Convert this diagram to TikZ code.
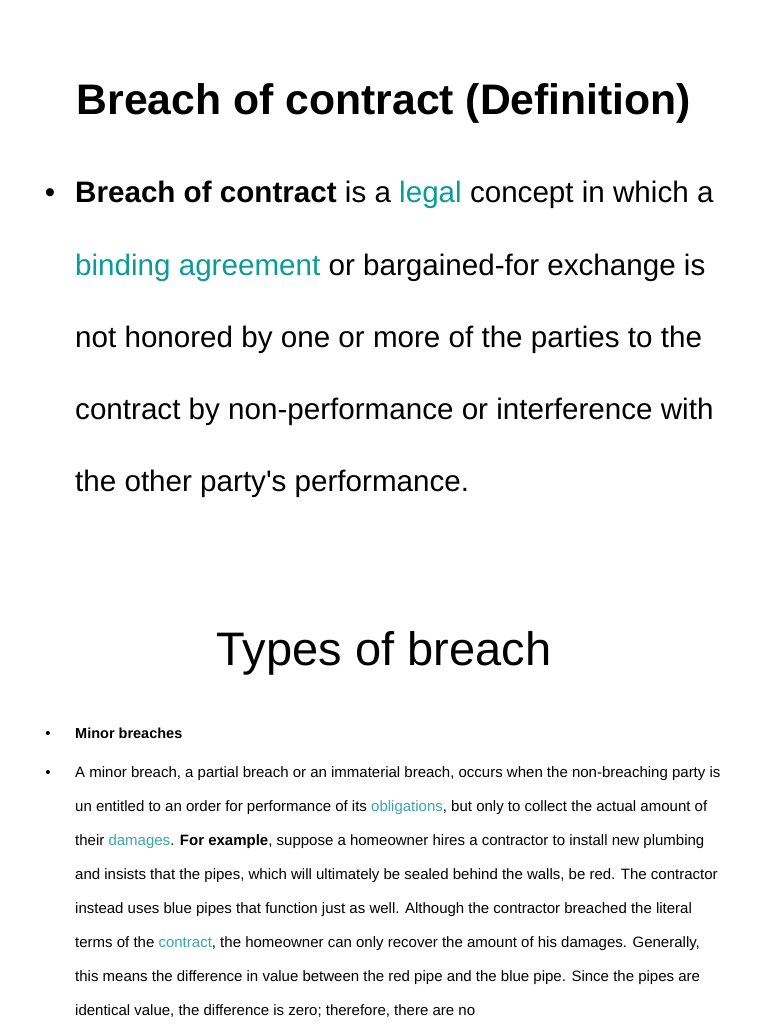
\documentclass[tikz,border=0pt]{standalone}
\usepackage{fontspec}
\setmainfont{Liberation Sans}
\newfontfamily\plainf{Liberation Sans}[Ligatures=ResetAll]
\definecolor{lnk}{HTML}{0A9B9B}
\definecolor{lnks}{HTML}{3AA8A8}
\begin{document}
\begin{tikzpicture}[x=1pt,y=-1pt,
  ln/.style={anchor=base west,inner sep=0pt},
  big/.style={ln,font=\fontsize{29.6}{32}\selectfont},
  sm/.style={ln,font=\fontsize{15}{17}\selectfont},
  bul/.style={anchor=base,inner sep=0pt}]
\useasboundingbox[fill=white] (0,0) rectangle (768,1024);
\node[anchor=base,inner sep=0pt,font=\bfseries\fontsize{42.7}{46}\selectfont] (title) at (384,115) {Breach of contract (Definition)};
\node[bul,font=\fontsize{29.6}{32}\selectfont] (b1) at (50,203) {•};
\node[big] (l1) at (75,203) {\textbf{Breach of contract} is a \textcolor{lnk}{legal} concept in which a};
\node[big] (l2) at (75,275) {\textcolor{lnk}{binding agreement} or bargained-for exchange is};
\node[big] (l3) at (75,347) {not honored by one or more of the parties to the};
\node[big] (l4) at (75,419) {contract by non-performance or interference with};
\node[big] (l5) at (75,491) {the other party{\plainf '}s performance.};
\node[anchor=base,inner sep=0pt,font=\fontsize{47}{50}\selectfont] (t2) at (384,665) {Types of breach};
\node[bul,font=\fontsize{15}{17}\selectfont] (b2) at (48,738) {•};
\node[sm,font=\bfseries\fontsize{14.5}{16}\selectfont] (s0) at (75,738) {Minor breaches};
\node[bul,font=\fontsize{15}{17}\selectfont] (b3) at (48,777) {•};
\node[sm] (s1) at (75,777) {A minor breach, a partial breach or an immaterial breach, occurs when the non-breaching party is};
\node[sm] (s2) at (75,811) {un entitled to an order for performance of its \textcolor{lnks}{obligations}, but only to collect the actual amount of};
\node[sm] (s3) at (75,845) {their \textcolor{lnks}{damages}. \textbf{For example}, suppose a homeowner hires a contractor to install new plumbing};
\node[sm] (s4) at (75,879) {and insists that the pipes, which will ultimately be sealed behind the walls, be red. The contractor};
\node[sm] (s5) at (75,913) {instead uses blue pipes that function just as well. Although the contractor breached the literal};
\node[sm] (s6) at (75,947) {terms of the \textcolor{lnks}{contract}, the homeowner can only recover the amount of his damages. Generally,};
\node[sm] (s7) at (75,981) {this means the difference in value between the red pipe and the blue pipe. Since the pipes are};
\node[sm] (s8) at (75,1015) {identical value, the difference is zero; therefore, there are no};
\end{tikzpicture}
\end{document}
